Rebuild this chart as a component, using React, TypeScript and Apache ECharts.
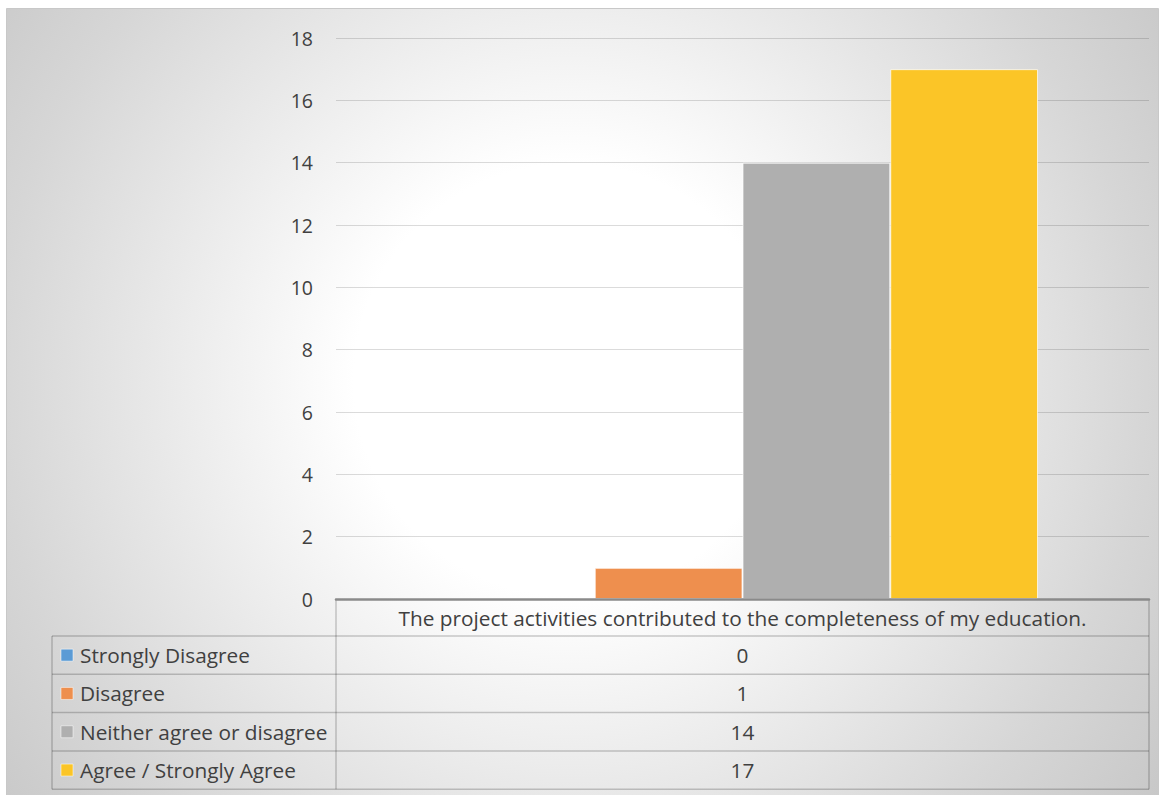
import React, { useEffect, useRef } from "react";
import * as echarts from "echarts";

const categories = ["The project activities contributed to the completeness of my education."];
const seriesNames = ["Strongly Disagree", "Disagree", "Neither agree or disagree", "Agree / Strongly Agree"];
const seriesValues = [[0], [1], [14], [17]];
const seriesColors = ["#5B9BD5", "#EE8F4E", "#AFAFAF", "#FBC527"];
const yMin = 0;
const yMax = 18;
const yInterval = 2;

const FONT = "'Open Sans', 'Liberation Sans', sans-serif";
const TEXT_COLOR = "#404040";
const TABLE_LINE = "rgba(0,0,0,0.2)";

export default function App() {
  const ref = useRef<HTMLDivElement>(null);
  useEffect(() => {
    if (!ref.current) return;
    const chart = echarts.init(ref.current, undefined, { renderer: "svg" });

    const gridLeft = 336;
    const gridRight = 1149;
    const axisY = 599;
    const headerBottom = 636;
    const tableLeft = 52;
    const rowH = 38.3;
    const tableBottom = headerBottom + rowH * seriesNames.length;

    const graphics: any[] = [];
    graphics.push({
      type: "rect",
      silent: true,
      z: -10,
      shape: { x: 6.5, y: 8.5, width: 1152, height: 795 },
      style: {
        fill: new echarts.graphic.RadialGradient(
          570,
          380,
          800,
          [
            { offset: 0, color: "#ffffff" },
            { offset: 0.27, color: "#ffffff" },
            { offset: 0.72, color: "#d6d6d6" },
            { offset: 0.9, color: "#c8c8c8" },
            { offset: 1, color: "#c4c4c4" },
          ],
          true
        ),
        stroke: "#c8c8c8",
        lineWidth: 1,
      },
    });
    const vLine = (x: number, y1: number, y2: number) => ({
      type: "line",
      silent: true,
      shape: { x1: x, y1, x2: x, y2 },
      style: { stroke: TABLE_LINE, lineWidth: 1.5 },
    });
    graphics.push(vLine(gridLeft, axisY, tableBottom));
    graphics.push(vLine(gridRight, axisY, tableBottom));
    graphics.push(vLine(tableLeft, headerBottom, tableBottom));
    for (let i = 0; i <= seriesNames.length; i++) {
      const y = headerBottom + rowH * i;
      graphics.push({
        type: "line",
        silent: true,
        shape: { x1: tableLeft, y1: y, x2: gridRight, y2: y },
        style: { stroke: TABLE_LINE, lineWidth: 1.5 },
      });
    }
    seriesNames.forEach((name, i) => {
      const cy = headerBottom + rowH * i + rowH / 2;
      graphics.push({
        type: "rect",
        silent: true,
        shape: { x: 61, y: cy - 6, width: 12, height: 12 },
        style: { fill: seriesColors[i], stroke: "rgba(255,255,255,0.5)", lineWidth: 1 },
      });
      graphics.push({
        type: "text",
        silent: true,
        x: 80,
        y: cy,
        style: {
          text: name,
          font: `20.8px ${FONT}`,
          fill: TEXT_COLOR,
          verticalAlign: "middle",
          align: "left",
        },
      });
      graphics.push({
        type: "text",
        silent: true,
        x: (gridLeft + gridRight) / 2,
        y: cy,
        style: {
          text: String(seriesValues[i][0]),
          font: `20.8px ${FONT}`,
          fill: TEXT_COLOR,
          verticalAlign: "middle",
          align: "center",
        },
      });
    });

    chart.setOption({
      animation: false,
      grid: { left: gridLeft, right: 1166 - gridRight, top: 38, bottom: 795 - axisY },
      graphic: graphics,
      xAxis: {
        type: "category",
        data: categories,
        axisTick: { show: false },
        axisLine: { lineStyle: { color: "#8a8a8a", width: 2.5 } },
        axisLabel: {
          color: TEXT_COLOR,
          fontSize: 20.8,
          fontFamily: FONT,
          margin: 8,
          lineHeight: 22,
        },
        z: 5,
      },
      yAxis: {
        type: "value",
        min: yMin,
        max: yMax,
        interval: yInterval,
        axisLine: { show: false },
        axisTick: { show: false },
        splitLine: { lineStyle: { color: "rgba(0,0,0,0.14)", width: 1 } },
        axisLabel: { color: TEXT_COLOR, fontSize: 19.5, fontFamily: FONT, margin: 23 },
      },
      series: seriesNames.map((name, i) => ({
        type: "bar",
        name,
        data: seriesValues[i],
        barGap: "0%",
        barCategoryGap: "27.3%",
        itemStyle: {
          color: seriesColors[i],
          borderColor: "rgba(255,255,255,0.7)",
          borderWidth: 1,
        },
      })),
    });
    return () => chart.dispose();
  }, []);
  return (
    <div
      ref={ref}
      style={{ position: "absolute", left: 0, top: 0, width: 1166, height: 795, background: "#ffffff" }}
    />
  );
}
